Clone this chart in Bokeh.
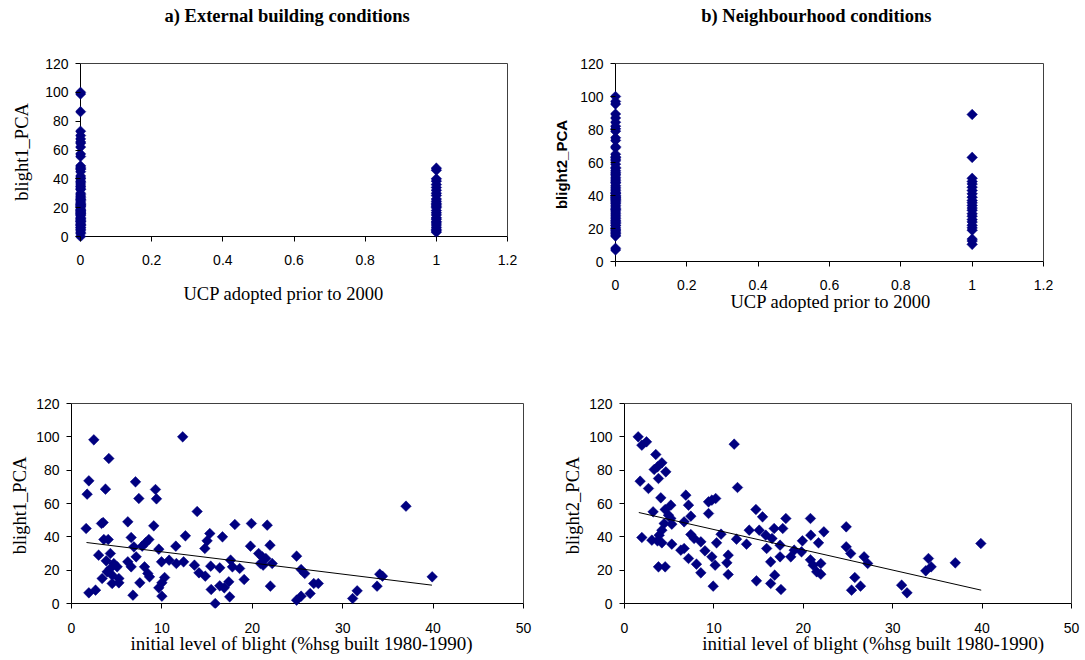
import math
from bokeh.plotting import figure
from bokeh.models import Range1d, LinearAxis, FixedTicker, NumeralTickFormatter, Title
from bokeh.layouts import column, row
from bokeh.embed import file_html
from bokeh.resources import INLINE

# ---------------- data ----------------
ucp_ticks = [0, 0.2, 0.4, 0.6, 0.8, 1, 1.2]
pca_ticks = [0, 20, 40, 60, 80, 100, 120]
init_ticks = [0, 10, 20, 30, 40, 50]

# a) external building conditions vs UCP adoption (0 = no, 1 = yes)
blight1_ucp0 = [100, 98.8, 86.6, 73, 70, 67.7, 65.6, 64.7, 62, 57.3, 55.5, 49, 48, 47, 46.6,
                45, 42, 40.6, 40, 38.4, 37.6, 36.4, 35, 34.4, 33, 32.6, 30, 29, 28, 27, 26,
                25.6, 25, 24, 23, 22.4, 22, 21.4, 21, 20.4, 19, 18.4, 18, 17.6, 17, 16.4, 16,
                15.6, 15, 14.4, 13, 12.4, 12, 11, 10.6, 10.4, 9.4, 8.4, 8, 7.6, 6.4, 6, 5,
                4.4, 3, 2, 0]
blight1_ucp1 = [47.4, 46, 40, 38.4, 36, 34, 32, 30, 28.4, 26, 24.4, 23, 22, 21, 20, 18, 16.4,
                15, 13, 12, 10.4, 9.4, 8, 6.4, 5, 4, 3]

# b) neighbourhood conditions vs UCP adoption
blight2_ucp0 = [100, 97, 95.4, 89.4, 87, 84.4, 82, 80.4, 79, 75, 73.4, 69.6, 69, 65, 63.4, 63,
                62, 61, 59, 57, 56.4, 55, 54, 53, 52.4, 51, 50, 49, 48, 47.6, 46, 45, 44, 43,
                42, 41.4, 41, 40, 39.6, 39, 38.6, 38, 37.6, 37, 36.4, 35.6, 35, 34, 33, 32,
                31.6, 31, 30, 29, 28, 27, 26, 25, 24.4, 23.6, 23, 22, 21.6, 20.4, 19.6, 19,
                18.4, 17.4, 17, 16, 15.4, 8, 7]
blight2_ucp1 = [89.1, 63.1, 50.4, 48.5, 47, 45, 43, 41, 39, 37, 35.6, 34, 32.4, 31, 29, 27.4,
                25.4, 24, 22, 20.4, 19, 13.6, 12.4, 10.4]

# initial level of blight (%hsg built 1980-1990) vs blight1_PCA
initial_blight_a = [1.62, 1.73, 1.92, 2.47, 1.92, 2.66, 3.0, 3.32, 3.58, 3.76, 4.13, 4.06, 4.3,
                    3.84, 4.68, 5.05, 4.3, 3.95, 3.39, 4.5, 4.5, 5.24, 5.24, 6.23, 6.6, 6.9,
                    7.15, 6.23, 6.6, 6.8, 7.08, 7.45, 7.56, 7.82, 8.2, 8.56, 8.08, 8.44, 8.63,
                    9.1, 9.29, 9.4, 9.66, 9.96, 10.3, 10.0, 9.66, 10.0, 10.8, 11.54, 11.6, 12.3,
                    12.4, 12.6, 13.6, 13.9, 14.1, 14.75, 14.8, 15.0, 15.3, 15.4, 15.45, 15.9,
                    16.4, 16.4, 16.7, 16.9, 17.4, 17.5, 17.6, 17.8, 18.07, 18.6, 19.1, 19.8,
                    19.9, 20.7, 21.1, 21.5, 20.9, 21.2, 21.65, 21.96, 22.2, 22.0, 24.9, 25.4,
                    25.8, 24.9, 25.4, 26.4, 26.8, 27.3, 31.1, 31.6, 33.8, 34.1, 34.4, 37.0,
                    39.9, 3.5]
blight1_a = [45, 65.6, 73.6, 98.2, 6.4, 8, 29, 48, 38.4, 68.6, 87, 38.4, 30, 25.6, 24, 22, 21,
             19, 15, 17, 12, 15, 12.4, 49, 39.6, 34, 28, 25, 22, 5, 73, 63, 12.4, 34.4, 36.4,
             38.4, 22, 18, 16, 46.6, 68.4, 62.8, 32.6, 25, 15.6, 12.4, 9.4, 4.4, 26, 34.4, 24,
             100, 25, 40.6, 23, 55.2, 18.4, 33, 16.4, 37.6, 42, 22.4, 8.4, 0, 21.4, 10.6, 40,
             9.4, 13, 4, 26, 22, 47.4, 21, 14.4, 34.4, 48, 30, 28, 27, 24, 23, 47, 35, 24,
             10.4, 28.4, 20.4, 18, 2, 4.4, 6, 12, 12, 3, 7.6, 10.4, 17.6, 16.4, 58.4, 16, 48.6]
trend_x_a = [1.66, 39.87]
trend_y_a = [36.6, 11.0]

# initial level of blight vs blight2_PCA
initial_blight_b = [1.53, 1.94, 2.46, 3.5, 4.18, 3.69, 3.32, 4.62, 3.8, 1.75, 2.68, 4.06, 6.86,
                    7.16, 7.42, 9.4, 9.77, 10.2, 9.4, 12.27, 12.64, 3.2, 5.18, 4.55, 4.92, 5.18,
                    4.44, 5.29, 4.18, 3.88, 1.94, 3.06, 3.69, 4.18, 5.29, 6.67, 7.42, 7.79, 8.54,
                    6.67, 6.3, 7.16, 8.05, 8.54, 9.0, 9.77, 10.14, 9.92, 10.3, 10.8, 11.45, 11.6,
                    11.6, 12.53, 13.65, 13.95, 14.7, 14.76, 15.07, 15.44, 15.8, 15.9, 16.5,
                    16.74, 16.35, 16.35, 16.8, 17.4, 17.5, 17.4, 3.8, 4.55, 18.05, 17.7, 20.8,
                    19.9, 20.84, 22.3, 21.7, 18.6, 18.98, 19.8, 21.1, 21.5, 21.96, 21.96, 20.8,
                    24.8, 24.8, 25.3, 25.76, 25.4, 26.4, 26.8, 27.2, 31.0, 31.6, 34.0, 34.3,
                    33.7, 37.0, 39.86]
blight2_b = [100, 95, 97, 89.4, 84.4, 82, 80.4, 79, 75, 73.4, 69, 63.4, 65, 59, 52.4, 61, 62,
             63, 54, 95.6, 69.6, 55, 59, 56.4, 53, 51, 48, 47.6, 44, 41, 39.6, 38, 37.6, 36.4,
             35.6, 49, 41.4, 39, 37, 33, 32, 27, 23.6, 18.4, 31.6, 28, 23, 10.4, 36.4, 41.6,
             24.4, 29, 17.4, 38.6, 35.6, 44, 56.4, 13.6, 44, 52, 41, 33, 39, 45, 25, 12, 17,
             28, 8.4, 35, 22, 22, 51, 45, 51, 37.6, 41, 43, 36.4, 28, 32, 31, 23, 19, 24,
             17.6, 26.2, 46, 34, 30, 15.6, 8, 10.4, 28, 24, 11, 6.4, 27, 22, 19.6, 24.4, 36]
trend_x_b = [1.6, 39.9]
trend_y_b = [54.6, 8.0]

# ---------------- layout geometry (pixels, relative to each figure) ----------------
GEOM = {
    "a_top": dict(fx=0, fy=0, w=548, h=326, axl=80, axr=507, axt=63, axb=236,
                  x0=0, x1=1.2, y0=0, y1=120, tick_sd=13),
    "b_top": dict(fx=548, fy=0, w=510, h=351, axl=67, axr=495, axt=63, axb=261,
                  x0=0, x1=1.2, y0=0, y1=120, tick_sd=13),
    "a_bot": dict(fx=0, fy=351, w=545, h=309, axl=71, axr=523, axt=52, axb=252,
                  x0=0, x1=50, y0=0, y1=120, tick_sd=14),
    "b_bot": dict(fx=545, fy=351, w=536, h=309, axl=79, axr=526, axt=52, axb=252,
                  x0=0, x1=50, y0=0, y1=120, tick_sd=14),
}
PAD_LB = 5   # room left/below the axes so markers at 0 are not clipped
PAD_TR = 1

NAVY = "#000080"
SANS = "Liberation Sans"
SERIF = "Liberation Serif"


def scales(g):
    sx = (g["x1"] - g["x0"]) / (g["axr"] - g["axl"])
    sy = (g["y1"] - g["y0"]) / (g["axb"] - g["axt"])
    return sx, sy


def make_panel(g, xticks, x_formatter=None):
    sx, sy = scales(g)
    fl = g["axl"] - PAD_LB
    fr = g["axr"] + PAD_TR
    ft = g["axt"] - PAD_TR
    fb = g["axb"] + PAD_LB
    p = figure(width=g["w"], height=g["h"],
               x_range=Range1d(g["x0"] - PAD_LB * sx, g["x1"] + PAD_TR * sx),
               y_range=Range1d(g["y0"] - PAD_LB * sy, g["y1"] + PAD_TR * sy),
               x_axis_type=None, y_axis_type=None,
               toolbar_location=None, output_backend="svg",
               min_border_left=fl, min_border_right=g["w"] - fr,
               min_border_top=ft, min_border_bottom=g["h"] - fb)
    p.outline_line_color = None
    p.background_fill_color = "white"
    p.border_fill_color = "white"

    xa = LinearAxis(ticker=FixedTicker(ticks=xticks))
    if x_formatter is not None:
        xa.formatter = x_formatter
    ya = LinearAxis(ticker=FixedTicker(ticks=pca_ticks))
    for ax in (xa, ya):
        ax.axis_line_color = None
        ax.major_tick_line_color = "black"
        ax.major_tick_in = PAD_LB
        ax.major_tick_out = 0
        ax.minor_tick_line_color = None
        ax.major_label_text_font = SANS
        ax.major_label_text_font_size = "14px"
        ax.major_label_text_color = "black"
    xa.major_label_standoff = g["tick_sd"]
    ya.major_label_standoff = 7
    p.add_layout(xa, "below")
    p.add_layout(ya, "left")
    # axis lines crossing at the origin
    p.line([g["x0"], g["x1"]], [g["y0"], g["y0"]], line_color="black", line_width=1)
    p.line([g["x0"], g["x0"]], [g["y0"], g["y1"]], line_color="black", line_width=1)
    # plot-area border (top and right)
    p.line([g["x0"], g["x1"], g["x1"]], [g["y1"], g["y1"], g["y0"]],
           line_color="#404040", line_width=1)
    return p, fl


def y_title(p, text, font, size, style, standoff):
    """Vertical axis title carried by a tick-less axis stacked left of the numbers."""
    ax = LinearAxis(ticker=FixedTicker(ticks=[]), axis_label=text,
                    axis_label_standoff=standoff, axis_label_text_font=font,
                    axis_label_text_font_size=size, axis_label_text_font_style=style,
                    axis_label_text_color="black", axis_line_color=None,
                    major_tick_line_color=None, minor_tick_line_color=None,
                    major_tick_in=0, major_tick_out=0, minor_tick_in=0, minor_tick_out=0)
    p.add_layout(ax, "left")


def h_title(p, side, text, font, size, style, offset, standoff, valign):
    p.add_layout(Title(text=text, align="left", offset=offset, standoff=standoff,
                       vertical_align=valign, text_font=font, text_font_size=size,
                       text_font_style=style, text_color="black"), side)


def spacer_above(p, g, height):
    # an axis with one white, label-less tick at the right edge: it only reserves
    # `height` px between the frame and the title
    ax = LinearAxis(ticker=FixedTicker(ticks=[g["x1"]]), axis_line_color=None,
                    major_tick_line_color="white", minor_tick_line_color=None,
                    major_tick_in=0, major_tick_out=height, minor_tick_in=0, minor_tick_out=0,
                    major_label_text_color=None, major_label_text_font_size="0px",
                    major_label_standoff=0)
    p.add_layout(ax, "above")


def diamonds(p, xs, ys):
    p.scatter(xs, ys, marker="square", angle=math.pi / 4, size=7.5,
              fill_color=NAVY, line_color=NAVY, line_width=0.5)


# a) top
g = GEOM["a_top"]
p1, fl = make_panel(g, ucp_ticks, NumeralTickFormatter(format="0.[0]"))
diamonds(p1, [0] * len(blight1_ucp0), blight1_ucp0)
diamonds(p1, [1] * len(blight1_ucp1), blight1_ucp1)
spacer_above(p1, g, 37)
h_title(p1, "above", "a) External building conditions", SERIF, "18.5px", "bold",
        164 - fl, 0, "bottom")
h_title(p1, "below", "UCP adopted prior to 2000", SERIF, "18.5px", "normal",
        183 - fl, 32, "top")
y_title(p1, "blight1_PCA", SERIF, "18.5px", "normal", 11)

# b) top
g = GEOM["b_top"]
p2, fl = make_panel(g, ucp_ticks, NumeralTickFormatter(format="0.[0]"))
diamonds(p2, [0] * len(blight2_ucp0), blight2_ucp0)
diamonds(p2, [1] * len(blight2_ucp1), blight2_ucp1)
spacer_above(p2, g, 37)
h_title(p2, "above", "b) Neighbourhood conditions", SERIF, "18.5px", "bold",
        (700.7 - g["fx"]) - fl, 0, "bottom")
h_title(p2, "below", "UCP adopted prior to 2000", SERIF, "18.5px", "normal",
        (730 - g["fx"]) - fl, -2, "top")
y_title(p2, "blight2_PCA", SANS, "15px", "bold", 8)

# a) bottom
g = GEOM["a_bot"]
p3, fl = make_panel(g, init_ticks)
diamonds(p3, initial_blight_a, blight1_a)
p3.line(trend_x_a, trend_y_a, line_color="black", line_width=1)
h_title(p3, "below", "initial level of blight (%hsg built 1980-1990)", SERIF, "19px",
        "normal", 130 - fl, -6, "top")
y_title(p3, "blight1_PCA", SERIF, "18.5px", "normal", 4)

# b) bottom
g = GEOM["b_bot"]
p4, fl = make_panel(g, init_ticks)
diamonds(p4, initial_blight_b, blight2_b)
p4.line(trend_x_b, trend_y_b, line_color="black", line_width=1)
h_title(p4, "below", "initial level of blight (%hsg built 1980-1990)", SERIF, "19px",
        "normal", (701.7 - g["fx"]) - fl, -6, "top")
y_title(p4, "blight2_PCA", SERIF, "18.5px", "normal", 4)

layout = column(row(p1, p2), row(p3, p4))

with open("out.html", "w") as f:
    f.write(file_html(layout, INLINE))
